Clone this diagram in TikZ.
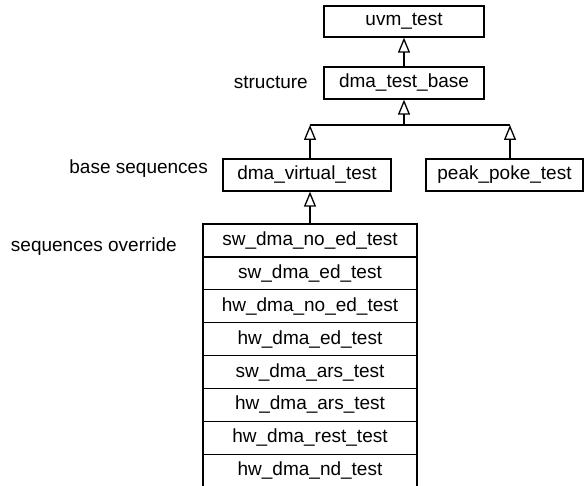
\documentclass[tikz,border=0pt]{standalone}
\usepackage{fontspec}
\setmainfont{Liberation Sans}
\usepackage{tikz}
\usetikzlibrary{arrows.meta}

\tikzset{
  cls/.style={draw, line width=1.3pt, inner sep=0pt, minimum height=32pt,
    font=\fontsize{19}{22}\selectfont},
  lbl/.style={anchor=east, inner sep=0pt, font=\fontsize{19}{22}\selectfont},
  inh/.style={line width=1.3pt, -{Triangle[open, width=12pt, length=15pt]}},
}

\begin{document}
\begin{tikzpicture}[x=1pt, y=-1pt]
  \useasboundingbox (0,0) rectangle (587,486);
  \node[cls, minimum width=160pt, minimum height=31pt] (uvm) at (404,21.5) {uvm\_test};
  \node[cls, minimum width=160pt] (base) at (404,83) {dma\_test\_base};
  \node[cls, minimum width=168pt] (virt) at (307,175) {dma\_virtual\_test};
  \node[cls, minimum width=157pt] (peak) at (504.5,175) {peak\_poke\_test};
  % override table
  \foreach \nm [count=\i] in {sw\_dma\_no\_ed\_test, sw\_dma\_ed\_test,
      hw\_dma\_no\_ed\_test, hw\_dma\_ed\_test, sw\_dma\_ars\_test,
      hw\_dma\_ars\_test, hw\_dma\_rest\_test, hw\_dma\_nd\_test}
    \node[cls, minimum width=214pt, minimum height=32.9pt] (r\i)
      at (310,{224+32.9*(\i-0.5)}) {\nm};
  \node[lbl] (lstr) at (308,82) {structure};
  \node[lbl] (lbase) at (208,169) {base sequences};
  \node[lbl] (lover) at (177,247) {sequences override};
  \coordinate (bl) at (310,125);
  \coordinate (br) at (510,125);
  \draw[line width=1.3pt] (bl) -- (br);
  \draw[inh] (base.south |- bl) -- (base.south);
  \draw[inh] (base.north) -- (uvm.south);
  \draw[inh] (virt.north -| bl) -- (bl);
  \draw[inh] (peak.north -| br) -- (br);
  \draw[inh] (r1.north -| bl) -- (virt.south -| bl);
\end{tikzpicture}
\end{document}
